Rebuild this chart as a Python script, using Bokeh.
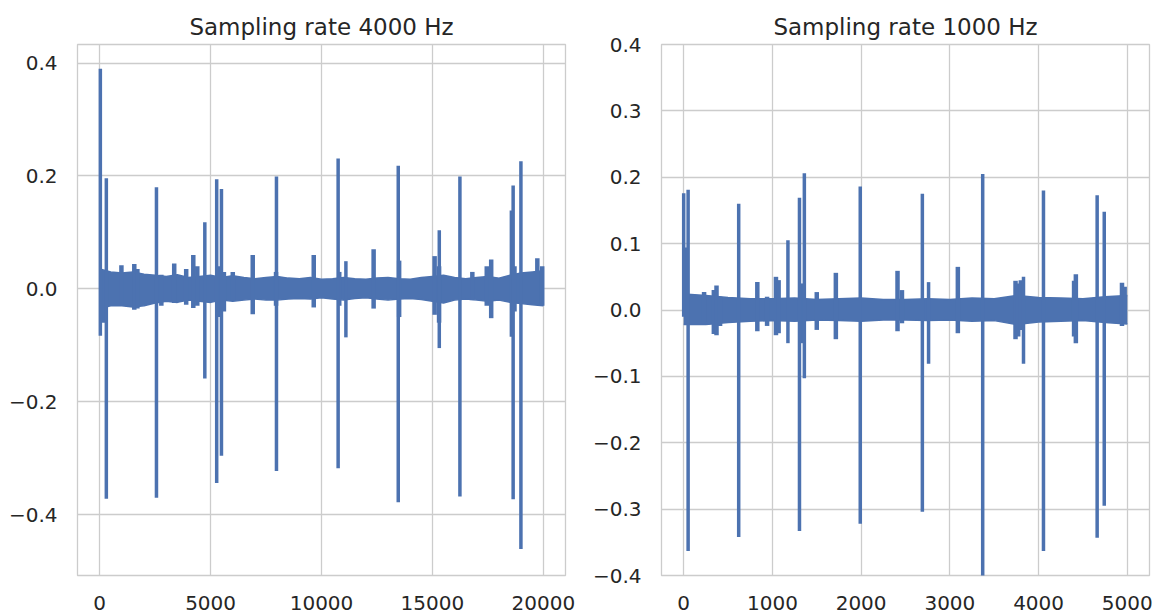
from bokeh.plotting import figure
from bokeh.layouts import row
from bokeh.models import FixedTicker, Range1d
from bokeh.embed import file_html
from bokeh.resources import INLINE

# ---------------- data: 4000 Hz panel ----------------
left_title = "Sampling rate 4000 Hz"
left_spike_x = [30, 300, 2560, 4740, 5275, 5490, 7970, 10750, 11100, 13460, 15310, 16240, 18560, 18640, 18990]
left_spike_hi = [0.39, 0.196, 0.18, 0.118, 0.194, 0.177, 0.199, 0.231, 0.049, 0.218, 0.104, 0.199, 0.139, 0.183, 0.226]
left_spike_lo = [-0.083, -0.372, -0.37, -0.159, -0.344, -0.296, -0.323, -0.318, -0.086, -0.378, -0.105, -0.368, -0.085, -0.373, -0.461]

left_bump_x = [190, 980, 1560, 1700, 2780, 3360, 3900, 4220, 4400, 5350, 5600, 6000, 6900, 7950,
               9650, 10800, 12350, 13500, 15100, 15300, 16800, 17450, 17650, 18700, 19730, 19950]
left_bump_hi = [0.030, 0.042, 0.044, 0.035, 0.025, 0.045, 0.035, 0.060, 0.040, 0.040, 0.030, 0.030, 0.060, 0.030,
                0.060, 0.030, 0.070, 0.050, 0.058, 0.040, 0.030, 0.040, 0.052, 0.040, 0.054, 0.040]
left_bump_lo = [-0.060, -0.030, -0.037, -0.035, -0.030, -0.025, -0.028, -0.034, -0.030, -0.050, -0.040, -0.020, -0.045, -0.030,
                -0.033, -0.030, -0.035, -0.050, -0.046, -0.060, -0.020, -0.030, -0.052, -0.040, -0.027, -0.030]

left_band_x = [0, 500, 1000, 1500, 2000, 2500, 3000, 3500, 4000, 4500,
               5000, 5500, 6000, 6500, 7000, 7500, 8000, 8500, 9000, 9500,
               10000, 10500, 11000, 11500, 12000, 12500, 13000, 13500, 14000, 14500,
               15000, 15500, 16000, 16500, 17000, 17500, 18000, 18500, 19000, 19500,
               20000]
left_band_hi = [0.035, 0.030, 0.028, 0.030, 0.026, 0.024, 0.022, 0.025, 0.020, 0.022,
                0.024, 0.020, 0.023, 0.020, 0.018, 0.020, 0.022, 0.019, 0.018, 0.020,
                0.017, 0.018, 0.020, 0.018, 0.017, 0.019, 0.020, 0.018, 0.017, 0.020,
                0.022, 0.024, 0.020, 0.018, 0.020, 0.022, 0.019, 0.024, 0.028, 0.030,
                0.032]
left_band_lo = [-0.035, -0.030, -0.030, -0.032, -0.030, -0.025, -0.022, -0.024, -0.020, -0.022,
                -0.024, -0.020, -0.022, -0.020, -0.018, -0.020, -0.020, -0.018, -0.017, -0.018,
                -0.016, -0.018, -0.020, -0.017, -0.016, -0.018, -0.020, -0.018, -0.017, -0.019,
                -0.022, -0.025, -0.020, -0.018, -0.020, -0.022, -0.020, -0.024, -0.026, -0.028,
                -0.030]
left_xticks = [0, 5000, 10000, 15000, 20000]
left_yticks = [-0.4, -0.2, 0.0, 0.2, 0.4]

# ---------------- data: 1000 Hz panel ----------------
right_title = "Sampling rate 1000 Hz"
right_spike_x = [0, 50, 620, 1175, 1305, 1360, 1990, 2690, 2760, 3370, 3830, 4055, 4660, 4740]
right_spike_hi = [0.176, 0.181, 0.160, 0.105, 0.169, 0.206, 0.186, 0.175, 0.042, 0.205, 0.050, 0.180, 0.173, 0.148]
right_spike_lo = [-0.010, -0.363, -0.342, -0.050, -0.333, -0.103, -0.322, -0.304, -0.081, -0.420, -0.081, -0.363, -0.343, -0.295]

right_bump_x = [35, 230, 340, 370, 410, 830, 940, 1040, 1070, 1320, 1500, 1715, 2410, 2460, 3090,
                3740, 3770, 3800, 4400, 4420, 4940, 4970]
right_bump_hi = [0.094, 0.027, 0.030, 0.037, 0.020, 0.042, 0.020, 0.050, 0.045, 0.040, 0.027, 0.056, 0.059, 0.030, 0.065,
                 0.044, 0.040, 0.045, 0.044, 0.054, 0.041, 0.035]
right_bump_lo = [-0.020, -0.018, -0.036, -0.038, -0.024, -0.032, -0.024, -0.038, -0.035, -0.050, -0.030, -0.044, -0.032, -0.020, -0.035,
                 -0.044, -0.040, -0.030, -0.040, -0.050, -0.024, -0.020]

right_band_x = [0, 250, 500, 750, 1000, 1250, 1500, 1750, 2000, 2250,
                2500, 2750, 3000, 3250, 3500, 3750, 4000, 4250, 4500, 4750, 5000]
right_band_hi = [0.024, 0.022, 0.019, 0.017, 0.017, 0.018, 0.016, 0.017, 0.018, 0.016,
                 0.016, 0.017, 0.016, 0.018, 0.017, 0.022, 0.019, 0.018, 0.017, 0.020, 0.022]
right_band_lo = [-0.022, -0.022, -0.019, -0.017, -0.016, -0.017, -0.015, -0.016, -0.017, -0.015,
                 -0.015, -0.016, -0.015, -0.017, -0.016, -0.022, -0.018, -0.017, -0.016, -0.019, -0.021]
right_xticks = [0, 1000, 2000, 3000, 4000, 5000]
right_yticks = [-0.4, -0.3, -0.2, -0.1, 0.0, 0.1, 0.2, 0.3, 0.4]

BLUE = "#4c72b0"
GRID = "#cccccc"
TEXT = "#262626"
FONT = "DejaVu Sans"


def fmt_y(v):
    s = f"{abs(v):.1f}"
    return ("\u2212" + s) if v < 0 else s


def make_panel(title, width, xr, yr, xticks, yticks, borders,
               band_x, band_hi, band_lo, sx, shi, slo, bx, bhi, blo):
    left, right, top, bottom = borders
    p = figure(width=width, height=614, output_backend="svg", toolbar_location=None,
               x_range=Range1d(*xr), y_range=Range1d(*yr), title=title,
               min_border_left=left, min_border_right=right,
               min_border_top=top, min_border_bottom=bottom)
    p.title.align = "center"
    p.title.text_font = FONT
    p.title.text_font_size = "23px"
    p.title.text_font_style = "normal"
    p.title.text_color = TEXT
    p.background_fill_color = "white"
    p.border_fill_color = "white"
    p.outline_line_color = GRID
    p.outline_line_width = 1.3
    for ax in (p.xaxis[0], p.yaxis[0]):
        ax.axis_line_color = None
        ax.major_tick_line_color = None
        ax.minor_tick_line_color = None
        ax.major_label_text_font = FONT
        ax.major_label_text_font_size = "20px"
        ax.major_label_text_color = TEXT
        ax.major_label_standoff = 14
    p.xaxis.ticker = FixedTicker(ticks=xticks)
    p.yaxis.ticker = FixedTicker(ticks=yticks)
    p.xaxis.major_label_overrides = {t: str(t) for t in xticks}
    p.yaxis.major_label_overrides = {t: fmt_y(t) for t in yticks}
    p.grid.grid_line_color = GRID
    p.grid.grid_line_width = 1.3

    p.varea(x=band_x, y1=band_lo, y2=band_hi, fill_color=BLUE, fill_alpha=1.0)
    p.line(x=band_x, y=band_hi, line_color=BLUE, line_width=1.5)
    p.line(x=band_x, y=band_lo, line_color=BLUE, line_width=1.5)
    p.segment(x0=bx, y0=blo, x1=bx, y1=bhi, line_color=BLUE, line_width=4.5)
    p.segment(x0=sx, y0=slo, x1=sx, y1=shi, line_color=BLUE, line_width=3.5)
    return p


p1 = make_panel(left_title, 580, (-1000, 21000), (-0.508, 0.433), left_xticks, left_yticks,
                (77, 15, 42, 38),
                left_band_x, left_band_hi, left_band_lo,
                left_spike_x, left_spike_hi, left_spike_lo,
                left_bump_x, left_bump_hi, left_bump_lo)
p2 = make_panel(right_title, 579, (-250, 5250), (-0.4, 0.4), right_xticks, right_yticks,
                (81, 10, 44, 39),
                right_band_x, right_band_hi, right_band_lo,
                right_spike_x, right_spike_hi, right_spike_lo,
                right_bump_x, right_bump_hi, right_bump_lo)

layout = row(p1, p2, spacing=0)
open("out.html", "w").write(file_html(layout, INLINE))
